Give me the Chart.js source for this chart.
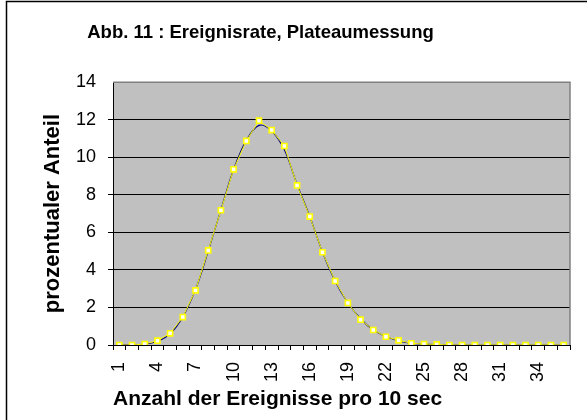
<!DOCTYPE html>
<html>
<head>
<meta charset="utf-8">
<script src="https://cdn.jsdelivr.net/npm/chart.js@4"></script>
<style>
  html, body { margin: 0; padding: 0; background: #fff; }
  .chart-wrapper { width: 587px; height: 420px; position: relative; }
</style>
</head>
<body>
<div class="chart-wrapper"><canvas id="plateau"></canvas></div>
<script>
// Ereignisse pro 10 sec (Kategorien 1..36)
const anzahl = ['1','2','3','4','5','6','7','8','9','10','11','12','13','14','15','16','17','18',
  '19','20','21','22','23','24','25','26','27','28','29','30','31','32','33','34','35','36'];

// gemessener prozentualer Anteil
const messwerte = [0, 0, 0.05, 0.23, 0.62, 1.49, 2.91, 5.04, 7.18, 9.36, 10.87, 11.95, 11.45, 10.6,
  8.5, 6.84, 4.94, 3.41, 2.24, 1.35, 0.8, 0.44, 0.25, 0.09, 0.05, 0.03, 0, 0, 0, 0, 0, 0, 0, 0, 0, 0];

// angepasste Kurve
const anpassung = [0, 0.01, 0.05, 0.2, 0.6, 1.5, 2.95, 5.0, 7.2, 9.35, 10.9, 11.7, 11.4, 10.4,
  8.55, 6.85, 4.95, 3.4, 2.25, 1.4, 0.8, 0.45, 0.22, 0.1, 0.05, 0.02, 0, 0, 0, 0, 0, 0, 0, 0, 0, 0];

const yTicks = [0, 2, 4, 6, 8, 10, 12, 14];

window.addEventListener('DOMContentLoaded', () => {
  const fontFamily = "'Liberation Sans', Arial, sans-serif";

  // grey plot area + frame around the whole picture
  const plotArea = {
    id: 'plotArea',
    afterLayout(chart) {
      // title sits a bit left of the canvas centre in the original
      if (chart.titleBlock) {
        chart.titleBlock.left = 0;
        chart.titleBlock.right = 521;
      }
    },
    beforeDraw(chart) {
      const { ctx, chartArea: a } = chart;
      ctx.save();
      ctx.fillStyle = '#fff';
      ctx.fillRect(0, 0, chart.width, chart.height);
      ctx.strokeStyle = '#000';
      ctx.lineWidth = 1.5;
      ctx.strokeRect(6.5, 1.5, 700, 700);
      ctx.fillStyle = '#C0C0C0';
      ctx.fillRect(a.left, a.top, a.right - a.left, a.bottom - a.top);
      ctx.restore();
    },
    afterDatasetsDraw(chart) {
      const { ctx, chartArea: a } = chart;
      ctx.save();
      ctx.strokeStyle = '#808080';
      ctx.lineWidth = 1.5;
      ctx.beginPath();
      ctx.moveTo(a.left, a.top);
      ctx.lineTo(a.right, a.top);
      ctx.lineTo(a.right, a.bottom);
      ctx.stroke();
      ctx.restore();
    }
  };

  new Chart(document.getElementById('plateau'), {
    type: 'line',
    data: {
      labels: anzahl,
      datasets: [
        {
          label: 'Messung',
          data: messwerte,
          borderColor: '#FFFF00',
          borderWidth: 1,
          pointStyle: 'rect',
          pointRadius: 3.6,
          pointBorderWidth: 1.6,
          pointBorderColor: '#FFFF00',
          pointBackgroundColor: '#FFFFFF',
          tension: 0
        },
        {
          label: 'Anpassung',
          data: anpassung,
          borderColor: '#000080',
          borderWidth: 1.2,
          pointRadius: 0,
          tension: 0.35
        }
      ]
    },
    options: {
      responsive: true,
      maintainAspectRatio: false,
      animation: false,
      layout: { padding: { left: 0, right: 17, top: 0, bottom: 0 } },
      plugins: {
        legend: { display: false },
        tooltip: { enabled: false },
        title: {
          display: true,
          text: 'Abb. 11 : Ereignisrate, Plateaumessung',
          color: '#000',
          font: { family: fontFamily, size: 18.5, weight: 'bold' },
          padding: { top: 22, bottom: 38 }
        }
      },
      scales: {
        x: {
          type: 'category',
          offset: true,
          afterFit: s => {
            s.height = 75;
            s.paddingLeft = 0;
            s.paddingRight = 0;
          },
          grid: {
            display: true,
            drawOnChartArea: false,
            drawTicks: true,
            tickLength: 5,
            offset: true,
            color: '#000'
          },
          border: { display: true, color: '#000', width: 1 },
          ticks: {
            autoSkip: false,
            maxRotation: 90,
            minRotation: 90,
            padding: 12,
            color: '#000',
            font: { family: fontFamily, size: 18 },
            callback: (v, i) => (i % 3 === 0 ? anzahl[i] : '')
          },
          title: {
            display: true,
            align: 'start',
            text: 'Anzahl der Ereignisse pro 10 sec',
            color: '#000',
            font: { family: fontFamily, size: 21, weight: 'bold' },
            padding: { top: 0, bottom: 8 }
          }
        },
        y: {
          min: 0,
          max: 14,
          afterFit: s => { s.width = 113; },
          afterBuildTicks: s => { s.ticks = yTicks.map(v => ({ value: v })); },
          grid: {
            drawTicks: true,
            tickLength: 5,
            color: ctx => (ctx.tick && ctx.tick.value === 14 ? 'rgba(0,0,0,0)' : '#000'),
            lineWidth: 1
          },
          border: { display: true, color: '#000', width: 1 },
          ticks: {
            padding: 12,
            color: '#000',
            font: { family: fontFamily, size: 18 }
          },
          title: {
            display: true,
            text: 'prozentualer Anteil',
            color: '#000',
            font: { family: fontFamily, size: 22, weight: 'bold' },
            padding: { top: 40, bottom: 0 }
          }
        }
      }
    },
    plugins: [plotArea]
  });
});
</script>
</body>
</html>
